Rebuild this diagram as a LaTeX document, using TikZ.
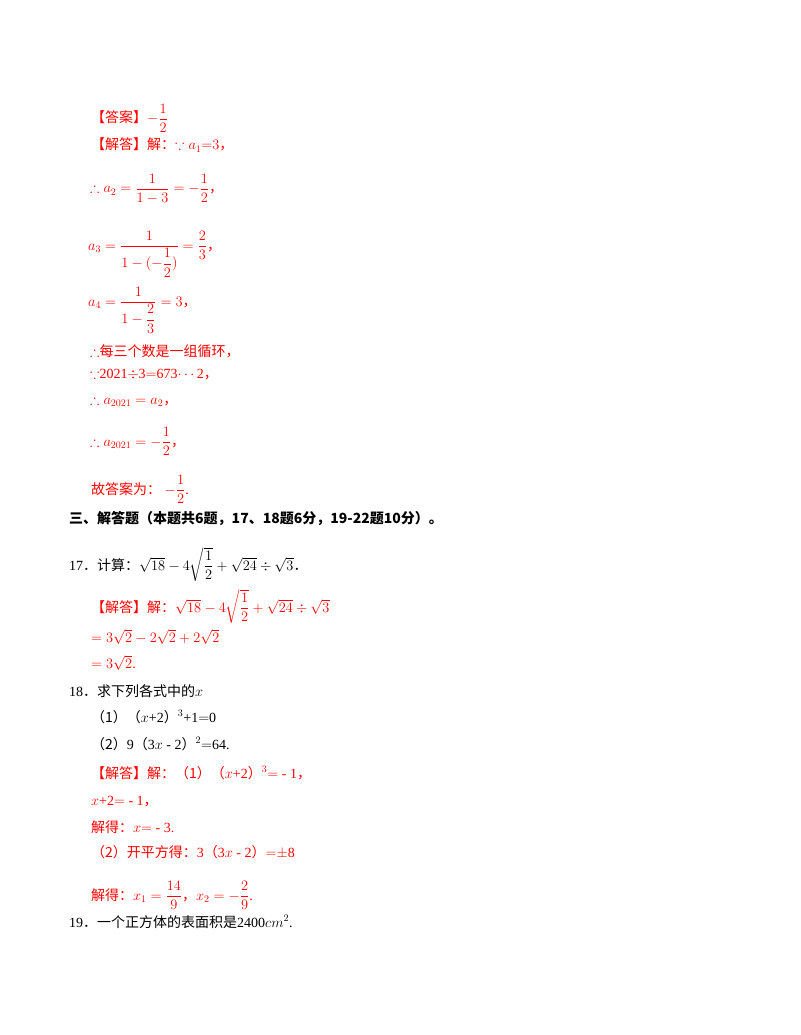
\documentclass[tikz,border=0pt]{standalone}
\usepackage{amsmath,amssymb}
\usepackage{fontspec}
\setmainfont{Liberation Serif}
\newfontfamily\cjk{Noto Sans CJK SC}
\newcommand\zh[1]{{\cjk #1}}
\definecolor{ansred}{RGB}{255,0,0}
\begin{document}
\begin{tikzpicture}[x=1pt,y=-1pt,
  t/.style={inner sep=0,anchor=base west,font=\fontsize{14}{16}\selectfont},
  r/.style={t,text=ansred}]
\useasboundingbox (0,0) rectangle (800,1035);
\node[r] (l1) at (91,123) {\zh{【答案】}$-\dfrac{1}{2}$};
\node[r] (l2) at (91,150) {\zh{【解答】解：}$\because a_1{=}3$\zh{，}};
\node[r] (l3) at (90,193) {$\therefore a_2=\dfrac{1}{1-3}=-\dfrac{1}{2}$\zh{，}};
\node[r] (l4) at (88,250) {$a_3=\dfrac{1}{1-(-\dfrac{1}{2})}=\dfrac{2}{3}$\zh{，}};
\node[r] (l5) at (88,306) {$a_4=\dfrac{1}{1-\dfrac{2}{3}}=3$\zh{，}};
\node[r] (l6) at (90,356) {$\therefore$\zh{每三个数是一组循环，}};
\node[r] (l7) at (90,378) {$\because$2021$\div$3$=$673$\cdots$2\zh{，}};
\node[r] (l8) at (90,404) {$\therefore a_{2021}=a_2$\zh{，}};
\node[r] (l9) at (90,446) {$\therefore a_{2021}=-\dfrac{1}{2}$\zh{，}};
\node[r] (l10) at (91,494) {\zh{故答案为：} $-\dfrac{1}{2}$.};
\node[t] (h) at (69,523) {\zh{\bfseries 三、解答题（本题共6题，17、18题6分，19-22题10分）。}};
\node[t] (q17) at (69,570) {17\zh{．计算：}$\sqrt{18}-4\sqrt{\dfrac{1}{2}}+\sqrt{24}\div\sqrt{3}$\zh{．}};
\node[r] (s1) at (91,612) {\zh{【解答】解：}$\sqrt{18}-4\sqrt{\dfrac{1}{2}}+\sqrt{24}\div\sqrt{3}$};
\node[r] (s2) at (91,642) {$=3\sqrt{2}-2\sqrt{2}+2\sqrt{2}$};
\node[r] (s3) at (91,668) {$=3\sqrt{2}$.};
\node[t] (q18) at (69,696) {18\zh{．求下列各式中的}$x$};
\node[t] (q18a) at (91,722) {\zh{（1）（}$x$+2\zh{）}$^3$+1$=$0};
\node[t] (q18b) at (91,749) {\zh{（2）}9\zh{（}3$x$ - 2\zh{）}$^2$$=$64.};
\node[r] (a1) at (91,778) {\zh{【解答】解：（1）（}$x$+2\zh{）}$^3$$=$ - 1\zh{，}};
\node[r] (a2) at (91,805) {$x$+2$=$ - 1\zh{，}};
\node[r] (a3) at (91,832) {\zh{解得：}$x$$=$ - 3.};
\node[r] (a4) at (91,857) {\zh{（2）开平方得：}3\zh{（}3$x$ - 2\zh{）}$=$$\pm$8};
\node[r] (a5) at (91,900) {\zh{解得：}$x_1=\dfrac{14}{9}$\zh{，}$x_2=-\dfrac{2}{9}$.};
\node[t] (q19) at (69,927) {19\zh{．一个正方体的表面积是}2400$cm^2$.};
\end{tikzpicture}
\end{document}
